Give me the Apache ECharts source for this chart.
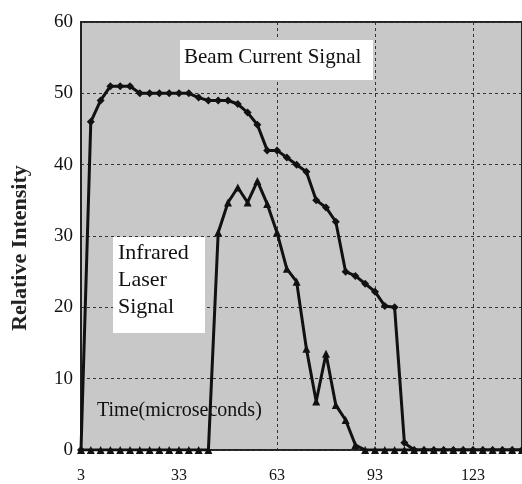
<!DOCTYPE html>
<html>
<head>
<meta charset="utf-8">
<script src="https://cdn.jsdelivr.net/npm/echarts@6/dist/echarts.min.js"></script>
<style>
  html, body { margin: 0; padding: 0; background: #fff; }
  #main { width: 522px; height: 484px; }
</style>
</head>
<body>
<div id="main"></div>
<script>
// time steps (microseconds), 3 us apart
var times = [];
for (var t = 3; t <= 138; t += 3) times.push(String(t));

// beam current signal
var beamValues = [0, 46, 49, 51, 51, 51, 50, 50, 50, 50, 50, 50, 49.4, 49, 49, 49,
  48.5, 47.3, 45.6, 42, 42, 41, 40, 39, 35, 34, 32, 25, 24.4, 23.3, 22.2, 20.2,
  20, 1, 0, 0, 0, 0, 0, 0, 0, 0, 0, 0, 0, 0];

// infrared laser signal
var laserValues = [0, 0, 0, 0, 0, 0, 0, 0, 0, 0, 0, 0, 0, 0, 30.5, 34.7,
  36.8, 34.7, 37.7, 34.5, 30.5, 25.4, 23.6, 14.2, 6.8, 13.5, 6.3, 4.2, 0.7, 0, 0, 0,
  0, 0, 0, 0, 0, 0, 0, 0, 0, 0, 0, 0, 0, 0];

var xTickLabels = ['3', '33', '63', '93', '123'];
var xGridAt = ['63', '93', '123'];

var serif = "'Liberation Serif', 'Times New Roman', serif";

var myChart = echarts.init(document.getElementById('main'));

var option = {
  backgroundColor: '#fff',
  animation: false,
  grid: {
    left: 81,
    top: 22,
    bottom: 32,
    right: -5,
    show: true,
    backgroundColor: '#c8c8c8',
    borderColor: '#222',
    borderWidth: 2,
  },
  xAxis: {
    type: 'category',
    data: times,
    boundaryGap: false,
    axisLine: { show: false },
    axisTick: { show: false },
    axisLabel: {
      interval: function (i, v) { return xTickLabels.indexOf(v) >= 0; },
      margin: 18,
      color: '#111',
      fontFamily: serif,
      fontSize: 16,
    },
    splitLine: {
      show: true,
      interval: function (i, v) { return xGridAt.indexOf(v) >= 0; },
      lineStyle: { color: '#333', width: 1, type: [3, 3] },
    },
  },
  yAxis: {
    type: 'value',
    min: 0,
    max: 60,
    interval: 10,
    axisLine: { show: true, lineStyle: { color: '#222', width: 2 } },
    axisTick: { show: false },
    axisLabel: {
      margin: 8,
      color: '#111',
      fontFamily: serif,
      fontSize: 19,
    },
    splitLine: {
      show: true,
      lineStyle: { color: '#333', width: 1, type: [3, 3] },
    },
  },
  graphic: [
    {
      // y axis title
      type: 'text',
      x: 20,
      y: 248,
      rotation: Math.PI / 2,
      style: {
        text: 'Relative Intensity',
        font: 'bold 22px ' + serif,
        fill: '#222',
        textAlign: 'center',
        textVerticalAlign: 'middle',
      },
    },
    {
      type: 'rect',
      shape: { x: 180, y: 40, width: 193, height: 40 },
      style: { fill: '#fff' },
      z: 5,
    },
    {
      type: 'text',
      x: 184,
      y: 47,
      style: {
        text: 'Beam Current Signal',
        font: '21px ' + serif,
        fill: '#111',
      },
      z: 6,
    },
    {
      type: 'rect',
      shape: { x: 113, y: 237, width: 92, height: 96 },
      style: { fill: '#fff' },
      z: 5,
    },
    {
      type: 'text',
      x: 118,
      y: 240,
      style: {
        text: 'Infrared\nLaser\nSignal',
        font: '22px ' + serif,
        lineHeight: 27,
        fill: '#111',
      },
      z: 6,
    },
    {
      type: 'text',
      x: 97,
      y: 401,
      style: {
        text: 'Time(microseconds)',
        font: '20px ' + serif,
        fill: '#111',
      },
      z: 6,
    },
  ],
  series: [
    {
      name: 'Beam Current Signal',
      type: 'line',
      data: beamValues,
      symbol: 'diamond',
      symbolSize: 8,
      showAllSymbol: true,
      lineStyle: { color: '#111', width: 3 },
      itemStyle: { color: '#111' },
      z: 3,
    },
    {
      name: 'Infrared Laser Signal',
      type: 'line',
      data: laserValues,
      symbol: 'triangle',
      symbolSize: 8,
      showAllSymbol: true,
      lineStyle: { color: '#111', width: 3 },
      itemStyle: { color: '#111' },
      z: 4,
    },
  ],
};

myChart.setOption(option);
</script>
</body>
</html>
